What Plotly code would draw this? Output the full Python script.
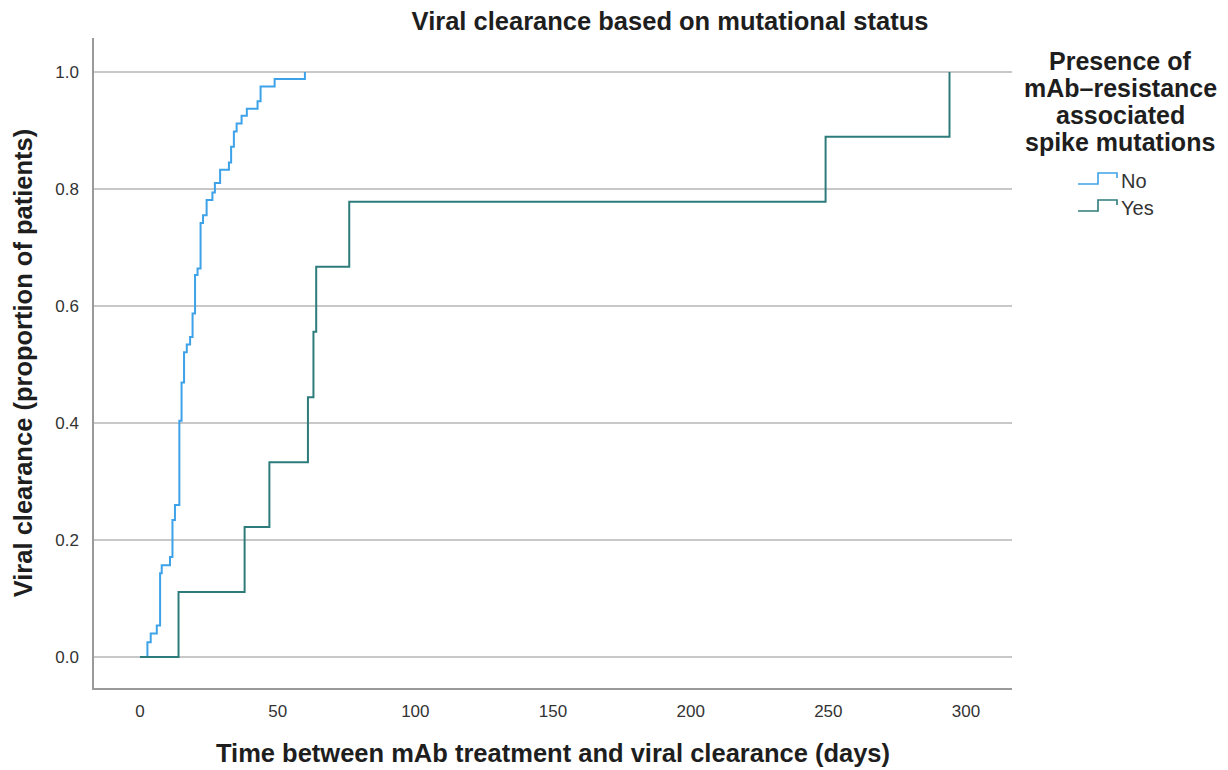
import plotly.graph_objects as go

# ---------------- data ----------------
no_days = [0, 2.7, 3.9, 6.1, 7.3, 7.9, 10.9, 11.8, 12.7, 14.3, 15.1, 16.0, 17.0, 18.2,
           19.1, 20.0, 20.9, 22.0, 22.9, 24.2, 26.3, 27.2, 29.1, 32.3, 33.1, 34.1,
           35.1, 36.9, 38.8, 42.7, 43.8, 48.9, 59.9]
no_prop = [0, 0.025, 0.040, 0.054, 0.143, 0.157, 0.171, 0.234, 0.260, 0.404, 0.469,
           0.521, 0.534, 0.547, 0.587, 0.653, 0.664, 0.742, 0.755, 0.781, 0.794, 0.810,
           0.833, 0.845, 0.872, 0.898, 0.912, 0.925, 0.937, 0.950, 0.975, 0.988, 1.0]

yes_days = [0, 14, 38, 47, 61, 63, 64, 76, 249, 294]
yes_prop = [0, 0.111, 0.222, 0.333, 0.444, 0.556, 0.667, 0.778, 0.889, 1.0]

group_names = ["No", "Yes"]
group_colors = ["#3DA2E8", "#2E7B7B"]

x_ticks = [0, 50, 100, 150, 200, 250, 300]
y_ticks = [0.0, 0.2, 0.4, 0.6, 0.8, 1.0]

title_text = "Viral clearance based on mutational status"
x_title = "Time between mAb treatment and viral clearance (days)"
y_title = "Viral clearance (proportion of patients)"
legend_title_lines = ["Presence of", "mAb\u2013resistance", "associated", "spike mutations"]

# ---------------- layout geometry (screen pixels; page body has an 8px margin) ----------------
OFF = 8
W, H = 1220, 762
PL, PR, PT, PB = 94, 1012, 38, 688          # plot area edges on screen
L, T = PL - OFF, PT - OFF
R = OFF + W - PR
B = OFF + H - PB
PW, PH = PR - PL, PB - PT


def px(xs):
    return (xs - PL) / PW


def py(ys):
    return (PB - ys) / PH


FONT = "Liberation Sans, Arial, sans-serif"
BIG = 25.5

fig = go.Figure()
for name, xs, ys, col in [(group_names[0], no_days, no_prop, group_colors[0]),
                          (group_names[1], yes_days, yes_prop, group_colors[1])]:
    fig.add_trace(go.Scatter(x=xs, y=ys, mode="lines", name=name,
                             line=dict(shape="hv", color=col, width=2),
                             showlegend=False))

# manual legend (step-shaped glyphs like the original)
shapes = []
annotations = []
for i, (name, col) in enumerate(zip(group_names, group_colors)):
    yc = 180 + 27 * i
    pts = [(1078, yc + 4), (1098, yc + 4), (1098, yc - 7), (1117, yc - 7), (1117, yc - 2)]
    path = "M " + " L ".join(f"{px(a):.5f},{py(b):.5f}" for a, b in pts)
    shapes.append(dict(type="path", xref="paper", yref="paper", path=path,
                       line=dict(color=col, width=1.6)))
    annotations.append(dict(x=px(1119), y=py(yc + 1), xref="paper", yref="paper",
                            text=name, showarrow=False, xanchor="left", yanchor="middle",
                            font=dict(family=FONT, size=20, color="#333333")))

legend_line_y = [61, 88, 115, 142]
for line, yl in zip(legend_title_lines, legend_line_y):
    annotations.append(dict(x=px(1120), y=py(yl), xref="paper", yref="paper",
                            text="<b>" + line + "</b>", showarrow=False,
                            xanchor="center", yanchor="middle",
                            font=dict(family=FONT, size=25, color="#1E1E1E")))

fig.update_layout(
    width=W, height=H,
    margin=dict(l=L, r=R, t=T, b=B, autoexpand=False),
    paper_bgcolor="white", plot_bgcolor="white",
    title=dict(text="<b>" + title_text + "</b>", x=(670 - OFF) / W, xanchor="center",
               y=1 - (21 - OFF) / H, yanchor="middle",
               font=dict(family=FONT, size=BIG, color="#1E1E1E")),
    xaxis=dict(range=[-16.7, 316.7], tickvals=x_ticks, showgrid=False, zeroline=False,
               automargin=False,
               showline=True, linecolor="#9A9A9A", linewidth=1.5, ticks="",
               ticklabelstandoff=7,
               tickfont=dict(family=FONT, size=17, color="#333333"),
               title=dict(text="<b>" + x_title + "</b>", standoff=24,
                          font=dict(family=FONT, size=BIG, color="#1E1E1E"))),
    yaxis=dict(range=[-0.053, 1.058], tickvals=y_ticks, tickformat=".1f",
               automargin=False,
               showgrid=True, gridcolor="#C8C8C8", gridwidth=1.5, zeroline=False,
               showline=True, linecolor="#9A9A9A", linewidth=1.5, ticks="",
               ticklabelstandoff=10,
               tickfont=dict(family=FONT, size=17, color="#333333"),
               title=dict(text="<b>" + y_title + "</b>", standoff=15,
                          font=dict(family=FONT, size=BIG, color="#1E1E1E"))),
    shapes=shapes,
    annotations=annotations,
)

fig.write_html("out.html")
